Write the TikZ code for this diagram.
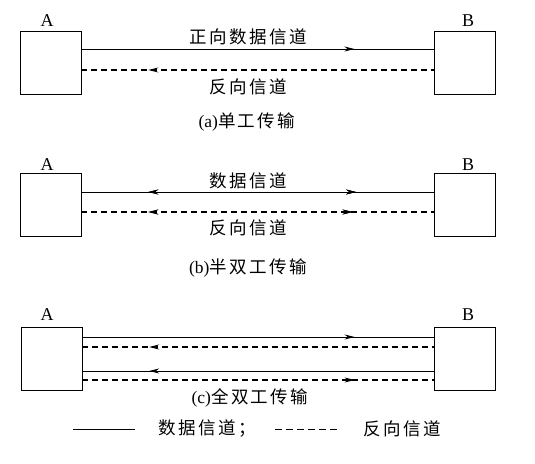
\documentclass[tikz,border=0pt]{standalone}
\usepackage{fontspec}
\setmainfont{Liberation Serif}
\newfontfamily\cjk[LetterSpace=14]{Noto Sans CJK SC}
\usetikzlibrary{decorations.markings,arrows.meta}
\begin{document}
\begin{tikzpicture}[x=1pt,y=-1pt,
  box/.style={draw,line width=0.9pt,minimum width=61pt,minimum height=63pt,inner sep=0pt},
  lbl/.style={font=\fontsize{18}{18}\selectfont,inner sep=0pt},
  txt/.style={font=\fontsize{17.5}{18}\selectfont\cjk,inner sep=0pt},
  captxt/.style={font=\fontsize{17.5}{18}\selectfont,inner sep=0pt},
  chan/.style={line width=0.9pt},
  rev/.style={line width=1.1pt,dash pattern=on 6pt off 4pt},
  tipR/.style={postaction={decorate},decoration={markings,mark=at position #1 with {\arrow{Stealth[length=10pt,width=5pt]}}}},
  tipL/.style={postaction={decorate},decoration={markings,mark=at position #1 with {\arrowreversed{Stealth[length=10pt,width=5pt]}}}}
]
\useasboundingbox (0,0) rectangle (535,463);
% (a)
\node[box] (A1) at (50.5,62.5) {};
\node[box] (B1) at (464.5,62.5) {};
\node[lbl] (la1) at (47,21) {A};
\node[lbl] (lb1) at (468,21) {B};
\draw[chan,tipR=0.775] ([yshift=13.5pt]A1.east) -- ([yshift=13.5pt]B1.west);
\draw[rev,tipL=0.19] ([yshift=-7.5pt]A1.east) -- ([yshift=-7.5pt]B1.west);
\node[txt] (t1) at (248,37) {正向数据信道};
\node[txt] (t2) at (248,87) {反向信道};
\node[captxt] (c1) at (247,122) {(a)\cjk 单工传输};
% (b)
\node[box] (A2) at (50.5,204.5) {};
\node[box] (B2) at (464.5,204.5) {};
\node[lbl] (la2) at (47,165) {A};
\node[lbl] (lb2) at (468,165) {B};
\draw[chan,tipR=0.78,tipL=0.19] ([yshift=12.5pt]A2.east) -- ([yshift=12.5pt]B2.west);
\draw[rev,tipR=0.77,tipL=0.19] ([yshift=-7.5pt]A2.east) -- ([yshift=-7.5pt]B2.west);
\node[txt] (t3) at (248,181) {数据信道};
\node[txt] (t4) at (248,228) {反向信道};
\node[captxt] (c2) at (248,268) {(b)\cjk 半双工传输};
% (c)
\node[box] (A3) at (51.5,358.5) {};
\node[box] (B3) at (464.5,358.5) {};
\node[lbl] (la3) at (47,315) {A};
\node[lbl] (lb3) at (468,315) {B};
\draw[chan,tipR=0.775] ([yshift=21.5pt]A3.east) -- ([yshift=21.5pt]B3.west);
\draw[rev,tipL=0.19] ([yshift=11.5pt]A3.east) -- ([yshift=11.5pt]B3.west);
\draw[chan,tipL=0.19] ([yshift=-12.5pt]A3.east) -- ([yshift=-12.5pt]B3.west);
\draw[rev,tipR=0.775] ([yshift=-21.5pt]A3.east) -- ([yshift=-21.5pt]B3.west);
\node[captxt] (c3) at (250,398) {(c)\cjk 全双工传输};
% legend
\coordinate (s1) at (73,429);
\coordinate (s2) at (135,429);
\draw[chan] (s1) -- (s2);
\node[txt] (g1) at (207,429) {数据信道；};
\coordinate (d1) at (275,429);
\coordinate (d2) at (337,429);
\draw[line width=1pt,dash pattern=on 7pt off 4pt] (d1) -- (d2);
\node[txt] (g2) at (402,429) {反向信道};
\end{tikzpicture}
\end{document}
